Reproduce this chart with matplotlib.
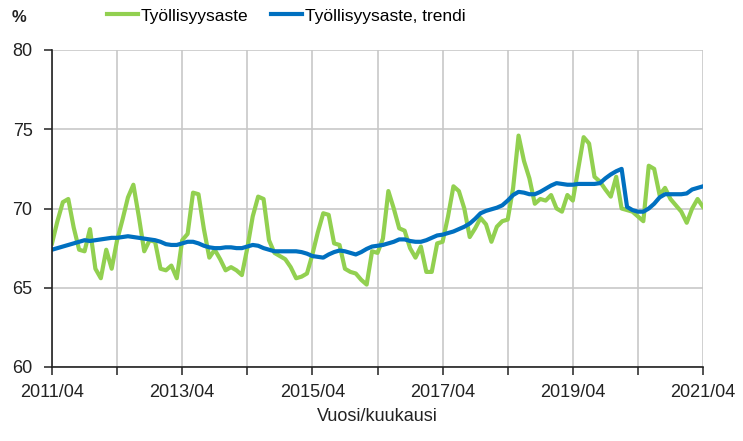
import numpy as np
import matplotlib.pyplot as plt
from matplotlib.ticker import MultipleLocator

# monthly data 2011/04 ... 2021/04
start_year, start_month = 2011, 4
rate = [
    67.8, 69.2, 70.4, 70.6, 68.8, 67.4, 67.3, 68.7, 66.2, 65.6, 67.4, 66.2,
    68.0, 69.3, 70.7, 71.5, 69.5, 67.3, 68.0, 67.9, 66.2, 66.1, 66.4, 65.6,
    68.0, 68.4, 71.0, 70.9, 68.7, 66.9, 67.4, 66.8, 66.1, 66.3, 66.1, 65.8,
    67.5, 69.5, 70.75, 70.6, 68.0, 67.2, 67.0, 66.8, 66.3, 65.6, 65.7, 65.9,
    67.1, 68.5, 69.7, 69.6, 67.8, 67.7, 66.2, 66.0, 65.9, 65.5, 65.2, 67.3,
    67.2, 68.1, 71.1, 70.0, 68.75, 68.6, 67.5, 66.9, 67.6, 66.0, 66.0, 67.8,
    67.9, 69.5, 71.4, 71.1, 70.0, 68.2, 68.75, 69.4, 69.0, 67.9, 68.85, 69.2,
    69.3, 71.3, 74.6, 73.0, 71.9, 70.3, 70.6, 70.5, 70.85, 70.0, 69.8, 70.85,
    70.5, 72.5, 74.5, 74.1, 72.0, 71.7, 71.2, 70.75, 72.0, 70.0, 69.9, 69.8,
    69.5, 69.2, 72.7, 72.5, 70.85, 71.3, 70.6, 70.2, 69.8, 69.1, 70.0, 70.6,
    70.1,
]
trend = [
    67.4, 67.5, 67.6, 67.7, 67.8, 67.9, 68.0, 67.95, 68.0, 68.05, 68.1, 68.15,
    68.15, 68.2, 68.25, 68.2, 68.15, 68.1, 68.05, 68.0, 67.9, 67.75, 67.7, 67.7,
    67.8, 67.9, 67.9, 67.8, 67.65, 67.55, 67.5, 67.5, 67.55, 67.55, 67.5, 67.5,
    67.6, 67.7, 67.65, 67.5, 67.4, 67.3, 67.3, 67.3, 67.3, 67.3, 67.25, 67.15,
    67.0, 66.95, 66.9, 67.1, 67.25, 67.35, 67.3, 67.2, 67.1, 67.25, 67.45, 67.6,
    67.65, 67.7, 67.8, 67.9, 68.05, 68.05, 67.95, 67.9, 67.9, 68.0, 68.15, 68.3,
    68.35, 68.45, 68.55, 68.7, 68.85, 69.05, 69.35, 69.7, 69.85, 69.95, 70.05, 70.2,
    70.5, 70.85, 71.05, 71.0, 70.9, 70.9, 71.05, 71.25, 71.45, 71.6, 71.55, 71.5,
    71.5, 71.55, 71.55, 71.55, 71.55, 71.6, 71.9, 72.15, 72.35, 72.5, 70.1, 69.9,
    69.8, 69.8, 70.0, 70.3, 70.7, 70.9, 70.9, 70.9, 70.9, 70.95, 71.2, 71.3,
    71.4,
]

plt.rcParams['font.family'] = ['Liberation Sans', 'DejaVu Sans']

months = np.arange(len(rate))
year_ticks = np.arange(0, len(rate), 12)
year_labels = [f"{start_year + i // 12}/{start_month:02d}" if (i // 12) % 2 == 0 else ""
               for i in year_ticks]

fig = plt.figure(figsize=(7.43, 4.41), dpi=100)
ax = fig.add_axes([52 / 743, 1 - 367 / 441, 651 / 743, 317 / 441])

ax.plot(months, rate, color='#92D050', lw=3.0, label='Työllisyysaste', solid_joinstyle='round')
ax.plot(months, trend, color='#0070C0', lw=3.0, label='Työllisyysaste, trendi')

ax.set_xlim(0, len(rate) - 1)
ax.set_ylim(60, 80)
ax.set_xticks(year_ticks)
ax.set_xticklabels(year_labels)
ax.yaxis.set_major_locator(MultipleLocator(5))
ax.grid(True, color='#C8C8C8', lw=1.2)
ax.set_axisbelow(True)

for side in ['top', 'right']:
    ax.spines[side].set_visible(False)
for side in ['left', 'bottom']:
    ax.spines[side].set_color('#222222')
    ax.spines[side].set_linewidth(1.2)
ax.tick_params(axis='both', labelsize=13, length=6, width=1.1, color='#222222', labelcolor='#222222')
ax.tick_params(axis='x', pad=6)
ax.tick_params(axis='y', pad=8)

ax.set_xlabel('Vuosi/kuukausi', fontsize=13, color='#222222', labelpad=5)
fig.text(12 / 743, 1 - 18 / 441, '%', fontsize=12, fontweight='bold', color='#222222', va='center')

fig.legend(loc='center left', bbox_to_anchor=(100 / 743, 1 - 16 / 441), ncol=2, frameon=False,
           fontsize=12.5, handlelength=1.8, handletextpad=0.15, columnspacing=1.3, borderaxespad=0)

fig.savefig('out.png', dpi=100)
